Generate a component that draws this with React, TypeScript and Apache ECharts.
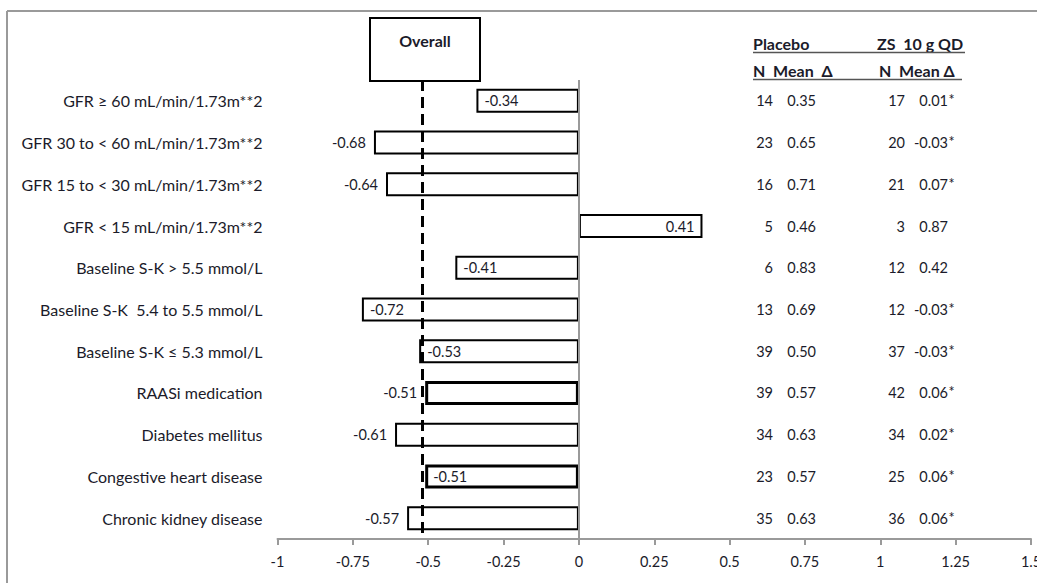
import React, { useEffect, useRef } from "react";
import * as echarts from "echarts";

// Subgroups, top to bottom
const categories = [
  "GFR ≥ 60 mL/min/1.73m**2",
  "GFR 30 to < 60 mL/min/1.73m**2",
  "GFR 15 to < 30 mL/min/1.73m**2",
  "GFR < 15 mL/min/1.73m**2",
  "Baseline S-K > 5.5 mmol/L",
  "Baseline S-K  5.4 to 5.5 mmol/L",
  "Baseline S-K ≤ 5.3 mmol/L",
  "RAASi medication",
  "Diabetes mellitus",
  "Congestive heart disease",
  "Chronic kidney disease",
];

// Treatment difference per subgroup
const effects = [-0.34, -0.68, -0.64, 0.41, -0.41, -0.72, -0.53, -0.51, -0.61, -0.51, -0.57];
const labelPositions = [
  "insideLeft", "left", "left", "insideRight", "insideLeft", "insideLeft",
  "insideLeft", "left", "left", "insideLeft", "left",
];
const thickBorder = [false, false, false, false, false, false, false, true, false, true, false];

// Overall treatment difference
const overall = -0.52;

// Table columns
const placeboN = [14, 23, 16, 5, 6, 13, 39, 39, 34, 23, 35];
const placeboMean = ["0.35", "0.65", "0.71", "0.46", "0.83", "0.69", "0.50", "0.57", "0.63", "0.57", "0.63"];
const zsN = [17, 20, 21, 3, 12, 12, 37, 42, 34, 25, 36];
const zsMean = ["0.01", "-0.03", "0.07", "0.87", "0.42", "-0.03", "-0.03", "0.06", "0.02", "0.06", "0.06"];
const zsSignificant = [true, true, true, false, false, true, true, true, true, true, true];

const xMin = -1;
const xMax = 1.5;
const xStep = 0.25;

const FONT = "Lato, 'Open Sans', sans-serif";
const INK = "#1b1b2a";

export default function App() {
  const ref = useRef<HTMLDivElement>(null);

  useEffect(() => {
    if (!ref.current) return;
    const chart = echarts.init(ref.current, null, { renderer: "svg" });

    chart.setOption({
      animation: false,
      backgroundColor: "#ffffff",
      grid: {
        left: 277.5,
        right: 6,
        top: 80,
        bottom: 44,
        containLabel: false,
        outerBoundsMode: "none",
      },
      xAxis: {
        type: "value",
        min: xMin,
        max: xMax,
        interval: xStep,
        splitLine: { show: false },
        axisLine: { show: true, onZero: false, lineStyle: { color: "#9a9a9a", width: 2 } },
        axisTick: { show: true, length: 6, lineStyle: { color: "#9a9a9a", width: 2 } },
        axisLabel: { color: INK, fontFamily: FONT, fontSize: 14.5, margin: 15, hideOverlap: false },
      },
      yAxis: {
        type: "category",
        inverse: true,
        data: categories,
        axisLine: { show: false },
        axisTick: { show: false },
        splitLine: { show: false },
        axisLabel: { color: INK, fontFamily: FONT, fontSize: 16, margin: 15 },
      },
      series: [
        {
          type: "bar",
          barWidth: 24,
          data: effects.map((v, i) => ({
            value: v,
            itemStyle: {
              color: "#ffffff",
              borderColor: "#000000",
              borderWidth: thickBorder[i] ? 3 : 2,
            },
            label: {
              show: true,
              position: labelPositions[i],
              distance: 8,
              color: INK,
              fontFamily: FONT,
              fontSize: 14.5,
              formatter: () => v.toFixed(2),
            },
          })),
          markLine: {
            silent: true,
            symbol: "none",
            label: { show: false },
            data: [
              { xAxis: 0, lineStyle: { color: "#9a9a9a", width: 2, type: "solid" } },
              {
                xAxis: overall,
                lineStyle: { color: "#000000", width: 3, type: [11, 6] },
              },
            ],
          },
          z: 3,
        },
      ],
    });

    // Right-hand table, aligned to the category rows
    const rowY = categories.map((c) => chart.convertToPixel({ yAxisIndex: 0 }, c) as number);
    const txt = (text: string, x: number, y: number, align: string, size = 14.5, bold = false) => ({
      type: "text",
      x,
      y,
      style: {
        text,
        fill: INK,
        font: `${bold ? "bold " : ""}${size}px ${FONT}`,
        textAlign: align,
        textVerticalAlign: "middle",
      },
      z: 10,
    });

    const tableEls: any[] = [];
    rowY.forEach((y, i) => {
      tableEls.push(txt(String(placeboN[i]), 773, y, "right"));
      tableEls.push(txt(placeboMean[i], 816, y, "right"));
      tableEls.push(txt(String(zsN[i]), 905, y, "right"));
      tableEls.push(txt(zsMean[i], 948, y, "right"));
      if (zsSignificant[i]) tableEls.push(txt("*", 948.5, y - 1, "left"));
    });

    chart.setOption({
      graphic: [
        // frame lines
        { type: "line", shape: { x1: 7, y1: 11, x2: 1037, y2: 11 }, style: { stroke: "#9a9a9a", lineWidth: 2 } },
        { type: "line", shape: { x1: 7, y1: 11, x2: 7, y2: 583 }, style: { stroke: "#9a9a9a", lineWidth: 2 } },
        // overall box
        {
          type: "rect",
          shape: { x: 370, y: 18, width: 110, height: 63 },
          style: { fill: "#ffffff", stroke: "#000000", lineWidth: 2 },
          z: 10,
        },
        txt("Overall", 425, 40, "center", 16, true),
        // table headers
        txt("Placebo", 753, 43, "left", 16, true),
        txt("ZS  10 g QD", 877, 43, "left", 16, true),
        { type: "line", shape: { x1: 753, y1: 52.5, x2: 965, y2: 52.5 }, style: { stroke: "#555", lineWidth: 1.5 }, z: 10 },
        txt("N  Mean  Δ", 753, 70, "left", 16, true),
        txt("N  Mean Δ", 879, 70, "left", 16, true),
        { type: "line", shape: { x1: 753, y1: 79.5, x2: 962, y2: 79.5 }, style: { stroke: "#555", lineWidth: 1.5 }, z: 10 },
        ...tableEls,
      ],
    });

    return () => chart.dispose();
  }, []);

  return (
    <div
      ref={ref}
      style={{ position: "absolute", left: 0, top: 0, width: 1037, height: 583 }}
    />
  );
}
